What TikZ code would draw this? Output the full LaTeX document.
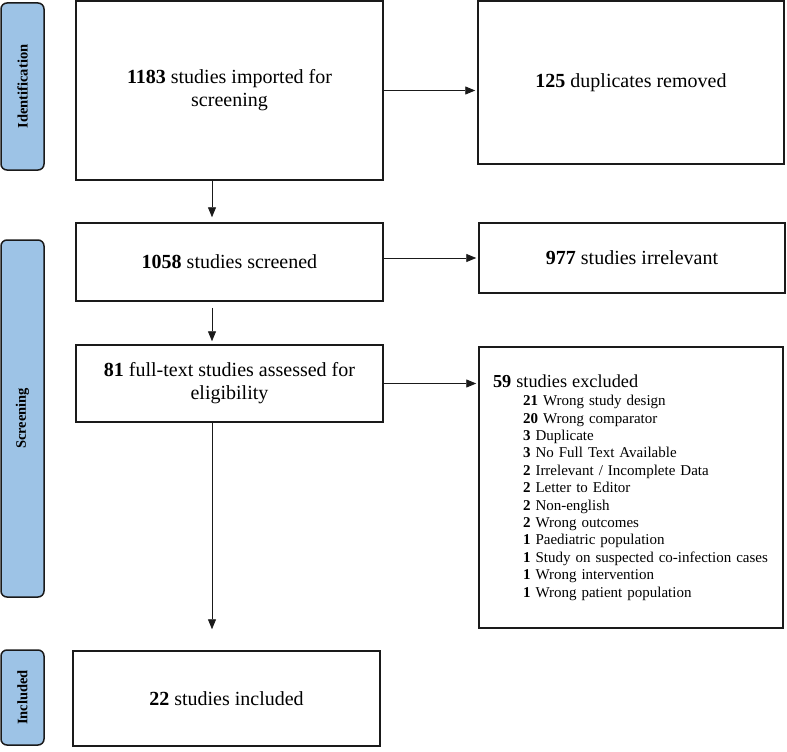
\documentclass[tikz,border=0pt]{standalone}
\usepackage{fontspec}
\setmainfont{Liberation Serif}
\usetikzlibrary{arrows.meta}
\definecolor{phasefill}{HTML}{9DC3E6}
\definecolor{edgecol}{HTML}{1A1A1A}
\begin{document}
\begin{tikzpicture}[x=1pt,y=-1pt,
  box/.style={draw=edgecol, line width=1.5pt, inner sep=0pt, align=center,
    font=\fontsize{20}{23}\selectfont},
  phasebox/.style={draw=edgecol, fill=phasefill, line width=1.5pt, rounded corners=6pt,
    inner sep=0pt, rotate=90, font=\bfseries\fontsize{14.5}{17}\selectfont},
  arr/.style={-{Triangle[length=10pt,width=8pt]}, line width=0.9pt, draw=edgecol},
]
\useasboundingbox (0,0) rectangle (787,752);

% phase labels
\node[phasebox, minimum width=167pt, minimum height=43pt] (p1) at (22.5,86.5) {Identification};
\node[phasebox, minimum width=357pt, minimum height=43pt] (p2) at (22.5,418.5) {Screening};
\node[phasebox, minimum width=95pt, minimum height=43pt] (p3) at (22.5,697.5) {Included};

% main boxes
\node[box, minimum width=307pt, minimum height=179pt] (b1) at (229.5,90.5)
  {\textbf{1183} studies imported for\\screening};
\node[box, minimum width=306pt, minimum height=163pt] (b2) at (631,82.5)
  {\textbf{125} duplicates removed};
\node[box, minimum width=307pt, minimum height=78pt] (b3) at (229.5,262)
  {\textbf{1058} studies screened};
\node[box, minimum width=306pt, minimum height=70pt] (b4) at (632,258)
  {\textbf{977} studies irrelevant};
\node[box, minimum width=307pt, minimum height=77pt] (b5) at (229.5,383.5)
  {\textbf{81} full-text studies assessed for\\eligibility};
\node[box, minimum width=304pt, minimum height=281pt, text width=276pt, align=left,
  font=\fontsize{15}{17.4}\selectfont] (b6) at (631,487.5)
  {{\fontsize{18.3}{21}\selectfont\textbf{59} studies excluded}\\[1pt]
   \hspace*{30pt}\textbf{21} Wrong study design\\
   \hspace*{30pt}\textbf{20} Wrong comparator\\
   \hspace*{30pt}\textbf{3} Duplicate\\
   \hspace*{30pt}\textbf{3} No Full Text Available\\
   \hspace*{30pt}\textbf{2} Irrelevant / Incomplete Data\\
   \hspace*{30pt}\textbf{2} Letter to Editor\\
   \hspace*{30pt}\textbf{2} Non-english\\
   \hspace*{30pt}\textbf{2} Wrong outcomes\\
   \hspace*{30pt}\textbf{1} Paediatric population\\
   \hspace*{30pt}\textbf{1} Study on suspected co-infection cases\\
   \hspace*{30pt}\textbf{1} Wrong intervention\\
   \hspace*{30pt}\textbf{1} Wrong patient population};
\node[box, minimum width=307pt, minimum height=95pt] (b7) at (226.5,698.5)
  {\textbf{22} studies included};

% connectors
\coordinate (dx) at (212,0);
\draw[arr, shorten >=2pt] (b1.east) -- (b2.west |- b1.east);
\draw[arr, shorten >=2pt] (b3.east |- b4.west) -- (b4.west);
\draw[arr, shorten >=2pt] (b5.east) -- (b6.west |- b5.east);
\draw[arr, shorten >=5pt] (b1.south -| dx) -- (b3.north -| dx);
\draw[arr, shorten <=6pt, shorten >=3pt] (b3.south -| dx) -- (b5.north -| dx);
\draw[arr, shorten >=21pt] (b5.south -| dx) -- (b7.north -| dx);
\end{tikzpicture}
\end{document}
